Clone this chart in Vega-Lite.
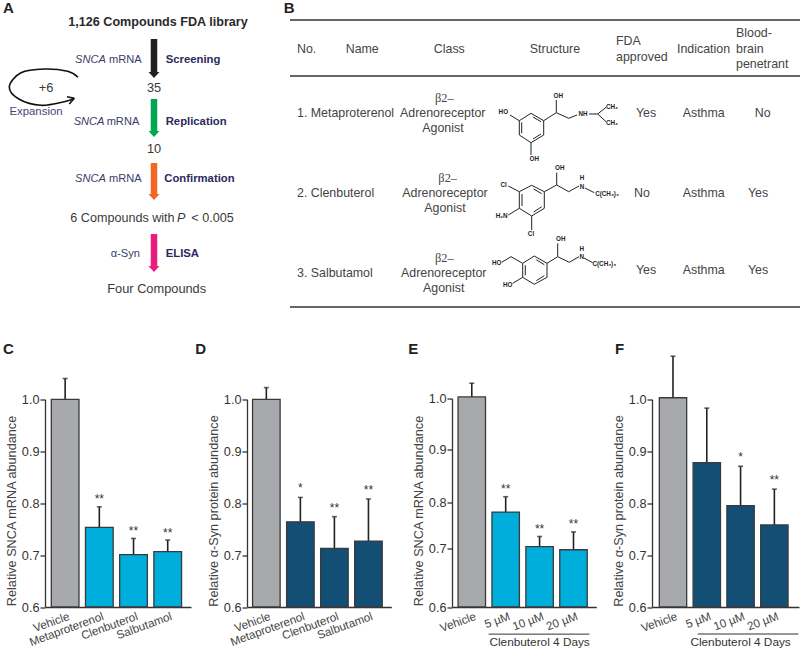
{"$schema":"https://vega.github.io/schema/vega-lite/v6.json","padding":{"left":3,"top":0,"right":0,"bottom":0},"bounds":"flush","spacing":27.5,"resolve":{"scale":{"color":"independent"}},
"config":{"view":{"stroke":null},"font":"Liberation Sans",
"axisX":{"title":null,"ticks":false,"labelAngle":-20,"labelAlign":"right","labelBaseline":"top","labelFontSize":11.6,"labelColor":"#444","labelPadding":3.5,"labelOffset":2,"domainColor":"#333","domainWidth":1.3},
"axisY":{"format":".1f","grid":false,"tickSize":5,"tickColor":"#333","tickWidth":1.3,"domainColor":"#333","domainWidth":1.3,"labelFontSize":12.7,"labelColor":"#333","labelPadding":1,"titleFontSize":12.7,"titleFontWeight":"normal","titleColor":"#444","titlePadding":3,"titleY":163},
"title":{"fontSize":15,"fontWeight":"bold","color":"#222","anchor":"start","frame":"group","offset":0,"dy":13,"baseline":"alphabetic"}},
"datasets":{
"tableRules":[{"x":289,"y":20,"x2":800,"y2":20},{"x":289,"y":76,"x2":800,"y2":76},{"x":289,"y":307,"x2":800,"y2":307}],
"bonds":[
{"x":530,"y":113.3,"x2":542.7,"y2":120.7},{"x":542.7,"y":120.7,"x2":542.7,"y2":135},{"x":542.7,"y":135,"x2":530,"y2":142.7},{"x":530,"y":142.7,"x2":518.3,"y2":135},{"x":518.3,"y":135,"x2":518.3,"y2":120.7},{"x":518.3,"y":120.7,"x2":530,"y2":113.3},
{"x":532,"y":117,"x2":540,"y2":121.7},{"x":540,"y":134,"x2":532,"y2":139},{"x":520.7,"y":133.3,"x2":520.7,"y2":122.3},
{"x":542.7,"y":120.7,"x2":555.3,"y2":112.7},{"x":555.3,"y":112.7,"x2":567.7,"y2":118.3},{"x":567.7,"y":118.3,"x2":576,"y2":115},{"x":588,"y":114,"x2":596.7,"y2":114},{"x":596.7,"y":114,"x2":605,"y2":107.3},{"x":596.7,"y":114,"x2":605,"y2":121.7},{"x":555.3,"y":112.7,"x2":555.3,"y2":100},{"x":518.3,"y":120.7,"x2":509,"y2":115},{"x":530,"y":142.7,"x2":530,"y2":155},
{"x":530.7,"y":185.3,"x2":543.3,"y2":191.7},{"x":543.3,"y":191.7,"x2":543.3,"y2":208.3},{"x":543.3,"y":208.3,"x2":530.7,"y2":216},{"x":530.7,"y":216,"x2":518.3,"y2":208.3},{"x":518.3,"y":208.3,"x2":518.3,"y2":191.7},{"x":518.3,"y":191.7,"x2":530.7,"y2":185.3},
{"x":532.7,"y":189,"x2":540.7,"y2":193.7},{"x":540.7,"y":206.7,"x2":532.7,"y2":212},{"x":521,"y":206,"x2":521,"y2":194},
{"x":543.3,"y":191.7,"x2":555.7,"y2":185},{"x":555.7,"y":185,"x2":567.7,"y2":191.7},{"x":567.7,"y":191.7,"x2":578,"y2":186},{"x":584,"y":188,"x2":593.3,"y2":192.7},{"x":555.7,"y":185,"x2":555.7,"y2":172.7},{"x":518.3,"y":191.7,"x2":507.3,"y2":186},{"x":518.3,"y":208.3,"x2":507.3,"y2":215},{"x":530.7,"y":216,"x2":530.7,"y2":230},
{"x":533.3,"y":256,"x2":546,"y2":263.3},{"x":546,"y":263.3,"x2":546,"y2":277.3},{"x":546,"y":277.3,"x2":533.3,"y2":284.3},{"x":533.3,"y":284.3,"x2":521.7,"y2":277.3},{"x":521.7,"y":277.3,"x2":521.7,"y2":263.3},{"x":521.7,"y":263.3,"x2":533.3,"y2":256},
{"x":535.3,"y":259.7,"x2":543.3,"y2":264.7},{"x":543.3,"y":275.7,"x2":535.3,"y2":280.7},{"x":524.3,"y":275.3,"x2":524.3,"y2":265.3},
{"x":546,"y":263.3,"x2":556.7,"y2":256.7},{"x":556.7,"y":256.7,"x2":568.3,"y2":262.3},{"x":568.3,"y":262.3,"x2":578,"y2":256.7},{"x":583,"y":258,"x2":591.7,"y2":262.7},{"x":556.7,"y":256.7,"x2":556.7,"y2":243.3},{"x":521.7,"y":263.3,"x2":510,"y2":256.7},{"x":510,"y":256.7,"x2":500.7,"y2":262.3},{"x":521.7,"y":277.3,"x2":511.7,"y2":283.3}],
"atoms":[{"x":557.3,"y":95.7,"t":"OH"},{"x":502.3,"y":112,"t":"HO"},{"x":582,"y":114,"t":"NH"},{"x":611,"y":106.5,"t":"CH₃"},{"x":611,"y":122.5,"t":"CH₃"},{"x":533.3,"y":159.3,"t":"OH"},
{"x":581,"y":186.7,"t":"N"},{"x":581,"y":178.3,"t":"H"},{"x":606,"y":194.3,"t":"C(CH₃)₃"},{"x":558.7,"y":167.7,"t":"OH"},{"x":502.7,"y":185.3,"t":"Cl"},{"x":500.7,"y":216,"t":"H₂N"},{"x":530,"y":234,"t":"Cl"},
{"x":580.7,"y":256.7,"t":"N"},{"x":580.7,"y":249,"t":"H"},{"x":603.3,"y":264,"t":"C(CH₃)₃"},{"x":559.7,"y":239,"t":"OH"},{"x":495.7,"y":263,"t":"HO"},{"x":506.7,"y":284.7,"t":"HO"}],
"arrows":[{"step":"Screening","x":153,"y":39,"y2":74},{"step":"Replication","x":153,"y":99,"y2":133},{"step":"Confirmation","x":153,"y":163,"y2":196},{"step":"ELISA","x":153,"y":234,"y2":268}],
"arrowHeads":[{"step":"Screening","x":153,"y":75},{"step":"Replication","x":153,"y":134},{"step":"Confirmation","x":153,"y":197},{"step":"ELISA","x":153,"y":269}],
"loop":[{"o":1,"x":77,"y":77.3},{"o":2,"x":66.7,"y":71.3},{"o":3,"x":43.3,"y":69},{"o":4,"x":20,"y":72.7},{"o":5,"x":8.3,"y":86.7},{"o":6,"x":18.3,"y":99.3},{"o":7,"x":40,"y":105.3},{"o":8,"x":63.3,"y":101.7},{"o":9,"x":73.3,"y":98.3}],
"chevron":[{"x":73.3,"y":98.3,"x2":66,"y2":96.7},{"x":73.3,"y":98.3,"x2":68.3,"y2":104}],
"panelLetters":[{"x":2,"y":8,"t":"A"},{"x":282.7,"y":8,"t":"B"}],
"flowBold":[{"x":157,"y":22,"t":"1,126 Compounds FDA library"}],
"flowSteps":[{"x":164.7,"y":60,"t":"Screening"},{"x":164.7,"y":122,"t":"Replication"},{"x":163.3,"y":178.7,"t":"Confirmation"},{"x":164.7,"y":254,"t":"ELISA"}],
"flowItalic":[{"x":74,"y":60,"t":"SNCA"},{"x":72.7,"y":122,"t":"SNCA"},{"x":74,"y":178.7,"t":"SNCA"}],
"flowAssay":[{"x":140.7,"y":60,"t":"mRNA"},{"x":138.3,"y":122,"t":"mRNA"},{"x":140.7,"y":178.7,"t":"mRNA"},{"x":139,"y":254,"t":"α-Syn"}],
"flowCounts":[{"x":153,"y":87.5,"t":"35"},{"x":153,"y":149,"t":"10"},{"x":155.7,"y":289,"t":"Four Compounds"},{"x":45,"y":87.5,"t":"+6"}],
"expansion":[{"x":35,"y":112,"t":"Expansion"}],
"pLeft":[{"x":69.3,"y":218,"t":"6 Compounds with"}],
"pItalic":[{"x":176,"y":218,"t":"P"}],
"pRight":[{"x":232.7,"y":218,"t":"< 0.005"}],
"tableLeft":[{"x":296,"y":49,"t":"No."},{"x":344.7,"y":49,"t":"Name"},{"x":615,"y":41.3,"t":"FDA"},{"x":615,"y":56.7,"t":"approved"},{"x":676,"y":49,"t":"Indication"},{"x":735,"y":33.3,"t":"Blood-"},{"x":735,"y":49,"t":"brain"},{"x":735,"y":64,"t":"penetrant"},{"x":296,"y":113,"t":"1. Metaproterenol"},{"x":296,"y":193,"t":"2. Clenbuterol"},{"x":296,"y":273.3,"t":"3. Salbutamol"}],
"tableCenter":[{"x":448.3,"y":49,"t":"Class"},{"x":554,"y":49,"t":"Structure"},
{"x":441.7,"y":113,"t":"Adrenoreceptor"},{"x":442,"y":128.3,"t":"Agonist"},{"x":645,"y":113,"t":"Yes"},{"x":702.7,"y":113,"t":"Asthma"},{"x":761.7,"y":113,"t":"No"},
{"x":444,"y":193,"t":"Adrenoreceptor"},{"x":444,"y":208.3,"t":"Agonist"},{"x":641,"y":193,"t":"No"},{"x":702.7,"y":193,"t":"Asthma"},{"x":757,"y":193,"t":"Yes"},
{"x":442.7,"y":273,"t":"Adrenoreceptor"},{"x":442.7,"y":288.3,"t":"Agonist"},{"x":645,"y":270,"t":"Yes"},{"x":702.7,"y":270,"t":"Asthma"},{"x":757,"y":270,"t":"Yes"}],
"tableBeta":[{"x":443.3,"y":98.3,"t":"β2–"},{"x":446.7,"y":178.3,"t":"β2–"},{"x":443.3,"y":257.7,"t":"β2–"}],
"C":[{"name":"Vehicle","mean":1.0,"upper":1.04,"sig":""},{"name":"Metaproterenol","mean":0.7535,"upper":0.793,"sig":"**"},{"name":"Clenbuterol","mean":0.701,"upper":0.732,"sig":"**"},{"name":"Salbutamol","mean":0.7066,"upper":0.729,"sig":"**"}],
"D":[{"name":"Vehicle","mean":1.0,"upper":1.0226,"sig":""},{"name":"Metaproterenol","mean":0.764,"upper":0.811,"sig":"*"},{"name":"Clenbuterol","mean":0.713,"upper":0.774,"sig":"**"},{"name":"Salbutamol","mean":0.727,"upper":0.808,"sig":"**"}],
"E":[{"name":"Vehicle","mean":1.003,"upper":1.03,"sig":""},{"name":"5 µM","mean":0.778,"upper":0.81,"sig":"**"},{"name":"10 µM","mean":0.703,"upper":0.725,"sig":"**"},{"name":"20 µM","mean":0.697,"upper":0.735,"sig":"**"}],
"F":[{"name":"Vehicle","mean":1.003,"upper":1.083,"sig":""},{"name":"5 µM","mean":0.878,"upper":0.983,"sig":""},{"name":"10 µM","mean":0.795,"upper":0.871,"sig":"*"},{"name":"20 µM","mean":0.758,"upper":0.827,"sig":"**"}]
},
"vconcat":[
{"width":756,"height":320,
"encoding":{"x":{"field":"x","type":"quantitative","axis":null,"scale":{"domain":[44,800],"nice":false,"zero":false}},"y":{"field":"y","type":"quantitative","axis":null,"scale":{"domain":[0,320],"reverse":true,"nice":false,"zero":false}}},
"layer":[
{"data":{"name":"tableRules"},"mark":{"type":"rule","stroke":"#333","strokeWidth":1.5},"encoding":{"x2":{"field":"x2"},"y2":{"field":"y2"}}},
{"data":{"name":"bonds"},"mark":{"type":"rule","stroke":"#222","strokeWidth":1},"encoding":{"x2":{"field":"x2"},"y2":{"field":"y2"}}},
{"data":{"name":"arrows"},"mark":{"type":"rule","strokeWidth":6.5},"encoding":{"y2":{"field":"y2"},"color":{"field":"step","type":"nominal","legend":null,"scale":{"domain":["Screening","Replication","Confirmation","ELISA"],"range":["#231f20","#00a651","#f26522","#ec1c7c"]}}}},
{"data":{"name":"arrowHeads"},"mark":{"type":"point","filled":true,"opacity":1,"size":121,"shape":"M-1,-0.55L1,-0.55L0,0.55Z"},"encoding":{"color":{"field":"step","type":"nominal","legend":null,"scale":{"domain":["Screening","Replication","Confirmation","ELISA"],"range":["#231f20","#00a651","#f26522","#ec1c7c"]}}}},
{"data":{"name":"loop"},"mark":{"type":"line","interpolate":"cardinal","stroke":"#111","strokeWidth":1.6},"encoding":{"order":{"field":"o"}}},
{"data":{"name":"chevron"},"mark":{"type":"rule","stroke":"#111","strokeWidth":1.6},"encoding":{"x2":{"field":"x2"},"y2":{"field":"y2"}}},
{"data":{"name":"atoms"},"mark":{"type":"text","fontSize":6.3,"fontWeight":"bold","fill":"#222","baseline":"middle","align":"center"},"encoding":{"text":{"field":"t"}}},
{"data":{"name":"panelLetters"},"mark":{"type":"text","fontSize":15,"fontWeight":"bold","fill":"#222","baseline":"middle","align":"left"},"encoding":{"text":{"field":"t"}}},
{"data":{"name":"flowBold"},"mark":{"type":"text","fontSize":12.6,"fontWeight":"bold","fill":"#2a2a2a","baseline":"middle","align":"center"},"encoding":{"text":{"field":"t"}}},
{"data":{"name":"flowSteps"},"mark":{"type":"text","fontSize":11.3,"fontWeight":"bold","fill":"#2b2a5e","baseline":"middle","align":"left"},"encoding":{"text":{"field":"t"}}},
{"data":{"name":"flowItalic"},"mark":{"type":"text","fontSize":11.1,"fontStyle":"italic","fill":"#3c3b6b","baseline":"middle","align":"left"},"encoding":{"text":{"field":"t"}}},
{"data":{"name":"flowAssay"},"mark":{"type":"text","fontSize":11.1,"fill":"#3c3b6b","baseline":"middle","align":"right"},"encoding":{"text":{"field":"t"}}},
{"data":{"name":"flowCounts"},"mark":{"type":"text","fontSize":12.8,"fill":"#3a3a3a","baseline":"middle","align":"center"},"encoding":{"text":{"field":"t"}}},
{"data":{"name":"expansion"},"mark":{"type":"text","fontSize":11.4,"fill":"#44447a","baseline":"middle","align":"center"},"encoding":{"text":{"field":"t"}}},
{"data":{"name":"pLeft"},"mark":{"type":"text","fontSize":12.6,"fill":"#3a3a3a","baseline":"middle","align":"left"},"encoding":{"text":{"field":"t"}}},
{"data":{"name":"pItalic"},"mark":{"type":"text","fontSize":12.6,"fontStyle":"italic","fill":"#3a3a3a","baseline":"middle","align":"left"},"encoding":{"text":{"field":"t"}}},
{"data":{"name":"pRight"},"mark":{"type":"text","fontSize":12.6,"fill":"#3a3a3a","baseline":"middle","align":"right"},"encoding":{"text":{"field":"t"}}},
{"data":{"name":"tableLeft"},"mark":{"type":"text","fontSize":12.4,"fill":"#444","baseline":"middle","align":"left"},"encoding":{"text":{"field":"t"}}},
{"data":{"name":"tableCenter"},"mark":{"type":"text","fontSize":12.4,"fill":"#444","baseline":"middle","align":"center"},"encoding":{"text":{"field":"t"}}},
{"data":{"name":"tableBeta"},"mark":{"type":"text","fontSize":12.4,"font":"Liberation Serif","fill":"#444","baseline":"middle","align":"center"},"encoding":{"text":{"field":"t"}}}
]},
{"bounds":"flush","spacing":55,"resolve":{"scale":{"color":"independent"}},"hconcat":[
{"title":{"text":"C","dx":-42},"width":146.7,"height":259.5,"data":{"name":"C"},
"encoding":{"x":{"field":"name","type":"nominal","sort":null,"scale":{"range":[0,146],"paddingInner":0.19,"paddingOuter":0.23,"align":0.4}}},
"layer":[
{"mark":{"type":"rule","stroke":"#222","strokeWidth":1.6},"encoding":{"y":{"field":"mean","type":"quantitative"},"y2":{"field":"upper"}}},
{"mark":{"type":"tick","color":"#222","size":5,"thickness":1.6},"encoding":{"y":{"field":"upper","type":"quantitative"}}},
{"mark":{"type":"bar","stroke":"#3a3a3a","strokeWidth":1.3},"encoding":{"y":{"field":"mean","type":"quantitative","title":"Relative SNCA mRNA abundance","axis":{"values":[0.6,0.7,0.8,0.9,1.0]},"scale":{"domain":[0.6,1.0],"range":[259.5,51.8],"nice":false,"zero":false}},"y2":{"datum":0.6},"color":{"field":"name","type":"nominal","legend":null,"scale":{"domain":["Vehicle","Metaproterenol","Clenbuterol","Salbutamol"],"range":["#a7a9ac","#00aedb","#00aedb","#00aedb"]}}}},
{"transform":[{"filter":"datum.sig != ''"}],"mark":{"type":"text","fontSize":12,"fill":"#333","dy":-3.5,"baseline":"alphabetic"},"encoding":{"y":{"field":"upper","type":"quantitative"},"text":{"field":"sig"}}}
]},
{"title":{"text":"D","dx":-51.7},"width":150,"height":259.5,"data":{"name":"D"},
"encoding":{"x":{"field":"name","type":"nominal","sort":null,"scale":{"range":[0,144.3],"paddingInner":0.19,"paddingOuter":0.215,"align":0.38}}},
"layer":[
{"mark":{"type":"rule","stroke":"#222","strokeWidth":1.6},"encoding":{"y":{"field":"mean","type":"quantitative"},"y2":{"field":"upper"}}},
{"mark":{"type":"tick","color":"#222","size":5,"thickness":1.6},"encoding":{"y":{"field":"upper","type":"quantitative"}}},
{"mark":{"type":"bar","stroke":"#3a3a3a","strokeWidth":1.3},"encoding":{"y":{"field":"mean","type":"quantitative","title":"Relative α-Syn protein abundance","axis":{"values":[0.6,0.7,0.8,0.9,1.0]},"scale":{"domain":[0.6,1.0],"range":[259.5,51.8],"nice":false,"zero":false}},"y2":{"datum":0.6},"color":{"field":"name","type":"nominal","legend":null,"scale":{"domain":["Vehicle","Metaproterenol","Clenbuterol","Salbutamol"],"range":["#a7a9ac","#134f75","#134f75","#134f75"]}}}},
{"transform":[{"filter":"datum.sig != ''"}],"mark":{"type":"text","fontSize":12,"fill":"#333","dy":-5,"baseline":"alphabetic"},"encoding":{"y":{"field":"upper","type":"quantitative"},"text":{"field":"sig"}}}
]},
{"title":{"text":"E","dx":-43.7},"width":144.3,"height":259.5,"data":{"name":"E"},
"encoding":{"x":{"field":"name","type":"nominal","sort":null,"scale":{"domain":["Vehicle","5 µM","10 µM","20 µM"],"paddingInner":0.19,"paddingOuter":0.223,"align":0.4}}},
"layer":[
{"mark":{"type":"rule","stroke":"#222","strokeWidth":1.6},"encoding":{"y":{"field":"mean","type":"quantitative"},"y2":{"field":"upper"}}},
{"mark":{"type":"tick","color":"#222","size":5,"thickness":1.6},"encoding":{"y":{"field":"upper","type":"quantitative"}}},
{"mark":{"type":"bar","stroke":"#3a3a3a","strokeWidth":1.3},"encoding":{"y":{"field":"mean","type":"quantitative","title":"Relative SNCA mRNA abundance","axis":{"values":[0.6,0.7,0.8,0.9,1.0]},"scale":{"domain":[0.6,0.7,0.8,0.9,1.0],"range":[259.5,200.5,154.5,102,51],"nice":false,"zero":false}},"y2":{"datum":0.6},"color":{"field":"name","type":"nominal","legend":null,"scale":{"domain":["Vehicle","5 µM","10 µM","20 µM"],"range":["#a7a9ac","#00aedb","#00aedb","#00aedb"]}}}},
{"transform":[{"filter":"datum.sig != ''"}],"mark":{"type":"text","fontSize":12,"fill":"#333","dy":-3.5,"baseline":"alphabetic"},"encoding":{"y":{"field":"upper","type":"quantitative"},"text":{"field":"sig"}}},
{"data":{"values":[{"from":"5 µM","to":"20 µM","level":0.554}]},"mark":{"type":"rule","stroke":"#333","strokeWidth":1,"xOffset":-17,"x2Offset":16},"encoding":{"x":{"field":"from","type":"nominal"},"x2":{"field":"to"},"y":{"field":"level","type":"quantitative"}}},
{"data":{"values":[{"name":"10 µM","level":0.5407,"t":"Clenbuterol 4 Days"}]},"mark":{"type":"text","fontSize":11.8,"fill":"#333","baseline":"middle"},"encoding":{"y":{"field":"level","type":"quantitative"},"text":{"field":"t"}}}
]},
{"title":{"text":"F","dx":-37},"width":147,"height":259.5,"data":{"name":"F"},
"encoding":{"x":{"field":"name","type":"nominal","sort":null,"scale":{"domain":["Vehicle","5 µM","10 µM","20 µM"],"paddingInner":0.19,"paddingOuter":0.27,"align":0.4}}},
"layer":[
{"mark":{"type":"rule","stroke":"#222","strokeWidth":1.6},"encoding":{"y":{"field":"mean","type":"quantitative"},"y2":{"field":"upper"}}},
{"mark":{"type":"tick","color":"#222","size":5,"thickness":1.6},"encoding":{"y":{"field":"upper","type":"quantitative"}}},
{"mark":{"type":"bar","stroke":"#3a3a3a","strokeWidth":1.3},"encoding":{"y":{"field":"mean","type":"quantitative","title":"Relative α-Syn protein abundance","axis":{"values":[0.6,0.7,0.8,0.9,1.0]},"scale":{"domain":[0.6,1.0],"range":[259.5,51.8],"nice":false,"zero":false}},"y2":{"datum":0.6},"color":{"field":"name","type":"nominal","legend":null,"scale":{"domain":["Vehicle","5 µM","10 µM","20 µM"],"range":["#a7a9ac","#134f75","#134f75","#134f75"]}}}},
{"transform":[{"filter":"datum.sig != ''"}],"mark":{"type":"text","fontSize":12,"fill":"#333","dy":-5,"baseline":"alphabetic"},"encoding":{"y":{"field":"upper","type":"quantitative"},"text":{"field":"sig"}}},
{"data":{"values":[{"from":"5 µM","to":"20 µM","level":0.548}]},"mark":{"type":"rule","stroke":"#333","strokeWidth":1,"xOffset":-9,"x2Offset":24},"encoding":{"x":{"field":"from","type":"nominal"},"x2":{"field":"to"},"y":{"field":"level","type":"quantitative"}}},
{"data":{"values":[{"name":"10 µM","level":0.532,"t":"Clenbuterol 4 Days"}]},"mark":{"type":"text","fontSize":11.8,"fill":"#333","baseline":"middle"},"encoding":{"y":{"field":"level","type":"quantitative"},"text":{"field":"t"}}}
]}
]}
]}
